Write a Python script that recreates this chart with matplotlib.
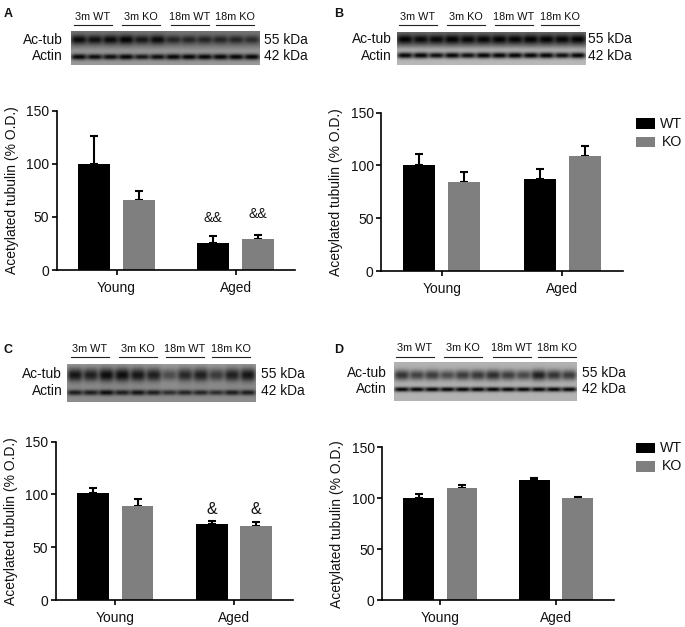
import numpy as np
import matplotlib
matplotlib.use('Agg')
import matplotlib.pyplot as plt
from matplotlib.lines import Line2D
from matplotlib.patches import Rectangle

plt.rcParams['font.family'] = ['Liberation Sans', 'DejaVu Sans']

W, H = 685, 627

groups = ['Young', 'Aged']
tick_vals = [0, 50, 100, 150]
blot_groups = ['3m WT', '3m KO', '18m WT', '18m KO']

# mean and upper end of the error bar: young WT, young KO, aged WT, aged KO
mean_a = [100, 66, 25, 29]
top_a = [126, 74.5, 32, 33]
mean_b = [100, 84, 87, 109]
top_b = [110.5, 93.5, 96.5, 118]
mean_c = [101, 89, 72, 70]
top_c = [106.5, 96, 74.5, 73.5]
mean_d = [100, 110, 118, 100]
top_d = [104, 113.5, 120, 101]

# how dark each lane's band looks on the blot (0-1)
actub_a = [.80, .75, .80, .85, .70, .80, .60, .60, .60, .60, .60, .55]
actin_a = [.90, .80, .80, .85, .75, .80, .90, .85, .85, .90, .90, .90]
actub_b = [.85, .80, .80, .85, .82, .82, .85, .82, .88, .85, .82, .85]
actin_b = [.90, .95, .80, .90, .80, .90, .90, .90, .85, .90, .80, .85]
actub_c = [.75, .70, .80, .80, .75, .70, .45, .65, .70, .55, .70, .75]
actin_c = [.70, .70, .80, .70, .75, .70, .60, .65, .65, .60, .70, .70]
actub_d = [.62, .55, .58, .50, .58, .60, .65, .58, .52, .72, .62, .58]
actin_d = [.95, .95, .95, .95, .95, .95, .95, .90, .90, .95, .95, .95]


def box(left, right, top, bottom):
    return [left / W, 1 - bottom / H, (right - left) / W, (bottom - top) / H]


def put_text(x, y, s, size, ha='center', **kw):
    fig.text(x / W, 1 - y / H, s, fontsize=size, ha=ha, va='center', color='#111111', **kw)


def draw_chart(pos, means, tops, marks=None, mark_y=None, mark_size=10.5):
    ax = fig.add_axes(box(*pos))
    off = 0.187
    xs = [0 - off, 0 + off, 1 - off, 1 + off]
    cols = ['black', '#7f7f7f', 'black', '#7f7f7f']
    errs = np.array(tops) - np.array(means)
    ax.bar(xs, means, width=0.265, color=cols, zorder=2)
    ax.errorbar(xs, means, yerr=[np.zeros(4), errs], fmt='none', ecolor='black',
                elinewidth=1.5, capsize=2.6, capthick=1.5, zorder=1)
    ax.set_xlim(-0.5, 1.5)
    ax.set_ylim(0, 150)
    ax.set_xticks([0, 1])
    ax.set_xticklabels(groups, fontsize=9.9, color='#111111')
    ax.set_yticks(tick_vals)
    ax.tick_params(axis='y', labelsize=10, length=3.5, width=1.2, pad=2, labelcolor='#111111')
    ax.tick_params(axis='x', length=3.5, width=1.2, pad=4.5)
    ax.set_ylabel('Acetylated tubulin (% O.D.)', fontsize=10, color='#111111')
    # the coordinate is the right edge of the rotated label
    ax.yaxis.set_label_coords(-38 / (pos[1] - pos[0]), 0.5)
    ax.spines['top'].set_visible(False)
    ax.spines['right'].set_visible(False)
    ax.spines['left'].set_linewidth(1.2)
    ax.spines['bottom'].set_linewidth(1.2)
    if marks:
        for x, y in zip(xs[2:], mark_y):
            ax.text(x, y, marks, fontsize=mark_size, ha='center', va='center', color='#111111')
    return ax


def draw_blot(pos, actub, actin, row_y, bg, half_h, line_x, line_y, text_y, label_r, kda_l, text_rows):
    left, right, top, bottom = pos
    ax = fig.add_axes(box(*pos))
    ny, nx = int((bottom - top) * 2), int((right - left) * 2)
    yy, xx = np.mgrid[top:bottom:ny * 1j, left:right:nx * 1j]
    split = (row_y[0] + row_y[1]) / 2
    img = bg[0] + (bg[1] - bg[0]) / (1 + np.exp(-(yy - split) / 1.5))
    lane = (right - left) / 12
    for row, vals in enumerate([actub, actin]):
        for i, s in enumerate(vals):
            cx = left + (i + 0.5) * lane
            shape = np.exp(-((xx - cx) / (lane * 0.5)) ** 4 - ((yy - row_y[row]) / (half_h[row] * (0.8 + 0.4 * s))) ** 2)
            img = img * (1 - min(s * 1.15, 0.97) * shape)
    ax.imshow(img, cmap='gray', vmin=0, vmax=1, aspect='auto', interpolation='bilinear')
    ax.axis('off')
    for x, name in zip(line_x, blot_groups):
        fig.add_artist(Line2D([x / W, (x + 38) / W], [1 - line_y / H] * 2, color='#222222', lw=0.8))
        put_text(x + 19, text_y, name, 7.8)
    put_text(label_r, text_rows[0], 'Ac-tub', 9.9, ha='right')
    put_text(label_r, text_rows[1], 'Actin', 9.9, ha='right')
    put_text(kda_l, text_rows[0], '55 kDa', 9.9, ha='left')
    put_text(kda_l, text_rows[1], '42 kDa', 9.9, ha='left')


def draw_legend(x, y_wt, y_ko):
    for y, col, name, dx in [(y_wt, 'black', 'WT', 5), (y_ko, '#7f7f7f', 'KO', 6.5)]:
        fig.add_artist(Rectangle((x / W, 1 - (y + 10.5) / H), 19.3 / W, 10.5 / H,
                                 transform=fig.transFigure, color=col, lw=0))
        put_text(x + 19.3 + dx, y + 5.5, name, 10.2, ha='left')


fig = plt.figure(figsize=(W / 100, H / 100), dpi=100)

draw_chart((57, 295, 110.7, 270), mean_a, top_a, '&&', [49, 53], 10.2)
draw_chart((381.3, 622.7, 112.7, 271), mean_b, top_b)
draw_chart((56, 293.3, 441.7, 600), mean_c, top_c, '&', [86, 86], 11.5)
draw_chart((382.3, 614, 447.3, 600.3), mean_d, top_d)

draw_blot((70.7, 259.3, 31, 65), actub_a, actin_a, (39.5, 57), (.46, .60), (4.2, 2.6),
          [73.7, 122.3, 171, 216], 25.3, 17, 63, 264, (39.5, 56.5))
draw_blot((396.7, 585, 31.7, 65), actub_b, actin_b, (39.7, 55.7), (.42, .72), (4, 2.6),
          [399, 447.3, 495, 541], 25.3, 17.3, 392, 588, (39, 56))
draw_blot((66.7, 255.7, 364, 402), actub_c, actin_c, (375, 392.7), (.62, .55), (6.5, 2.6),
          [71, 119, 165.7, 212.3], 357.3, 349, 62.3, 261, (374, 391))
draw_blot((394, 577, 362, 400.7), actub_d, actin_d, (375, 389.3), (.70, .70), (5, 2),
          [396, 444, 493, 537.7], 356.7, 348.3, 387, 582, (373, 389))

for x, y, s in [(4, 14, 'A'), (334, 14, 'B'), (4, 350, 'C'), (334, 350, 'D')]:
    put_text(x, y, s, 9, ha='left', fontweight='bold')

draw_legend(635.7, 118, 136.7)
draw_legend(635.7, 442.7, 461)

fig.savefig('out.png', dpi=100)
